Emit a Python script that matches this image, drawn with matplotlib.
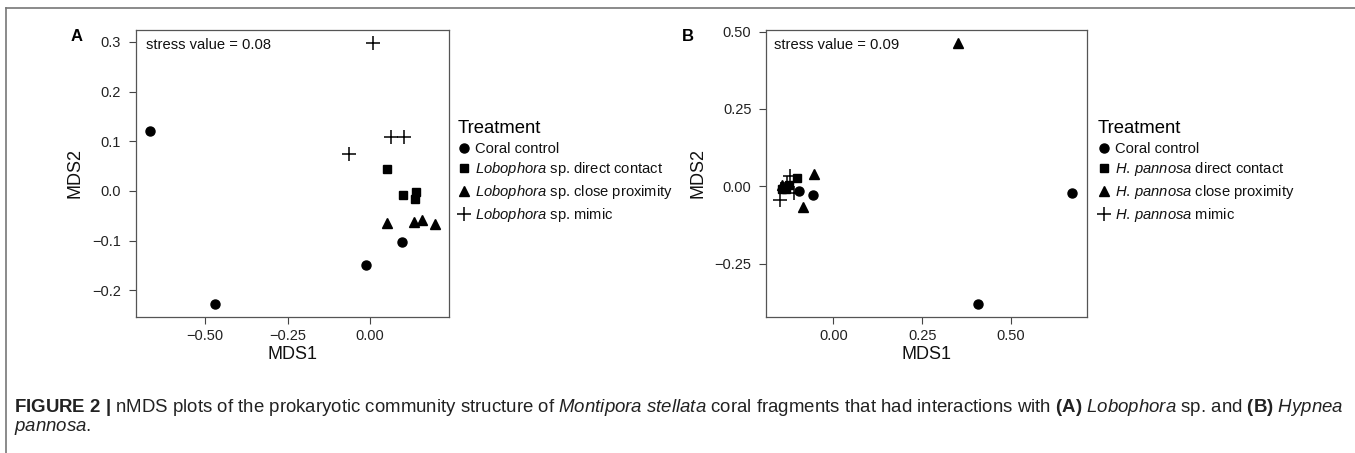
import matplotlib
matplotlib.use("Agg")
import matplotlib.pyplot as plt
from matplotlib.lines import Line2D

plt.rcParams['font.family'] = ['Liberation Sans', 'DejaVu Sans']
plt.rcParams['mathtext.fontset'] = 'custom'
plt.rcParams['mathtext.rm'] = 'Liberation Sans'
plt.rcParams['mathtext.it'] = 'Liberation Sans:italic'
plt.rcParams['mathtext.bf'] = 'Liberation Sans:bold'

# panel A - Lobophora sp.
a_control_x = [-0.667, -0.470, -0.012, 0.096]
a_control_y = [0.121, -0.227, -0.149, -0.103]
a_direct_x = [0.051, 0.101, 0.139, 0.136]
a_direct_y = [0.044, -0.008, -0.003, -0.016]
a_prox_x = [0.050, 0.134, 0.157, 0.197]
a_prox_y = [-0.065, -0.063, -0.058, -0.066]
a_mimic_x = [0.010, -0.063, 0.063, 0.103]
a_mimic_y = [0.297, 0.074, 0.108, 0.109]

# panel B - Hypnea pannosa
b_control_x = [0.673, 0.408, -0.059, -0.097]
b_control_y = [-0.021, -0.379, -0.029, -0.016]
b_direct_x = [-0.102, -0.135, -0.125, -0.145]
b_direct_y = [0.027, -0.008, 0.005, -0.010]
b_prox_x = [0.352, -0.056, -0.087, -0.145]
b_prox_y = [0.463, 0.041, -0.067, 0.005]
b_mimic_x = [-0.122, -0.150, -0.130, -0.112]
b_mimic_y = [0.035, -0.043, 0.012, -0.020]

a_labels = ['Coral control',
            r'$\it{Lobophora}$ sp. direct contact',
            r'$\it{Lobophora}$ sp. close proximity',
            r'$\it{Lobophora}$ sp. mimic']
b_labels = ['Coral control',
            r'$\it{H.\,pannosa}$ direct contact',
            r'$\it{H.\,pannosa}$ close proximity',
            r'$\it{H.\,pannosa}$ mimic']

styles = [dict(marker='o', ms=6.5),
          dict(marker='s', ms=5.8),
          dict(marker='^', ms=7.5),
          dict(marker='+', ms=9.5, mew=1.1)]

W, H = 1355, 453
fig = plt.figure(figsize=(W / 100, H / 100), dpi=100)


def px_axes(left, right, top, bottom):
    return fig.add_axes([left / W, 1 - bottom / H, (right - left) / W, (bottom - top) / H])


def panel(ax, groups, labels, xlim, ylim, xticks, yticks, stress, stress_x, leg_x):
    for (xs, ys), st in zip(groups, styles):
        ax.plot(xs, ys, ls='none', color='black', **st)
    ax.set_xlim(*xlim)
    ax.set_ylim(*ylim)
    ax.set_xticks(xticks)
    ax.set_yticks(yticks)
    for s in ax.spines.values():
        s.set_color('#555555')
        s.set_linewidth(0.9)
    ax.tick_params(direction='out', length=5, width=0.8, color='#444444',
                   labelsize=10.5, labelcolor='#222222')
    ax.tick_params(axis='y', pad=5.5)
    ax.tick_params(axis='x', pad=4)
    ax.set_xlabel('MDS1', fontsize=13, color='#111111', labelpad=2)
    ax.set_ylabel('MDS2', fontsize=13, color='#111111', labelpad=6)
    ax.text(stress_x, 0.948, stress, transform=ax.transAxes, va='center',
            fontsize=10.6, color='#111111')
    handles = [Line2D([], [], ls='none', color='black', **st) for st in styles]
    leg = ax.legend(handles, labels, title='Treatment', loc='upper left',
                    bbox_to_anchor=(leg_x / W, 1 - 120 / H), bbox_transform=fig.transFigure,
                    frameon=False, fontsize=10.6, title_fontsize=13.3,
                    handlelength=0.8, handletextpad=0.35, labelspacing=0.32,
                    borderpad=0, borderaxespad=0, alignment='left')
    for t in leg.get_texts():
        t.set_color('#111111')
    return leg


axA = px_axes(135.7, 449.3, 30, 316.7)
panel(axA,
      [(a_control_x, a_control_y), (a_direct_x, a_direct_y),
       (a_prox_x, a_prox_y), (a_mimic_x, a_mimic_y)],
      a_labels, (-0.71, 0.24), (-0.253, 0.324),
      [-0.5, -0.25, 0.0], [-0.2, -0.1, 0.0, 0.1, 0.2, 0.3],
      'stress value = 0.08', 0.032, 458)

axB = px_axes(766, 1086.7, 30, 316.7)
panel(axB,
      [(b_control_x, b_control_y), (b_direct_x, b_direct_y),
       (b_prox_x, b_prox_y), (b_mimic_x, b_mimic_y)],
      b_labels, (-0.19, 0.713), (-0.421, 0.505),
      [0.0, 0.25, 0.5], [-0.25, 0.0, 0.25, 0.5],
      'stress value = 0.09', 0.026, 1098)

fig.text(76.7 / W, 1 - 36.7 / H, 'A', fontsize=12, fontweight='bold', ha='center', va='center')
fig.text(688.3 / W, 1 - 36.7 / H, 'B', fontsize=12, fontweight='bold', ha='center', va='center')

# outer frame of the figure block
fig.add_artist(Line2D([6 / W, 1], [1 - 8 / H, 1 - 8 / H], transform=fig.transFigure,
                      color='#777777', lw=1.2))
fig.add_artist(Line2D([6 / W, 6 / W], [0, 1 - 8 / H], transform=fig.transFigure,
                      color='#777777', lw=1.2))

caption1 = (r'$\bf{FIGURE\ 2\ |}$ nMDS plots of the prokaryotic community structure of '
            r'$\it{Montipora}$ $\it{stellata}$ coral fragments that had interactions with '
            r'$\bf{(A)}$ $\it{Lobophora}$ sp. and $\bf{(B)}$ $\it{Hypnea}$')
cap = fig.text(14 / W, 1 - 407 / H, caption1, fontsize=11, va='center', ha='left', color='#222222')
fig.canvas.draw()
wpx = cap.get_window_extent().width
cap.set_fontsize(11 * (1326 / wpx))
fig.text(14 / W, 1 - 428 / H, r'$\it{pannosa}$.', fontsize=11 * (1326 / wpx),
         va='center', ha='left', color='#222222')

fig.savefig('out.png', dpi=100)
